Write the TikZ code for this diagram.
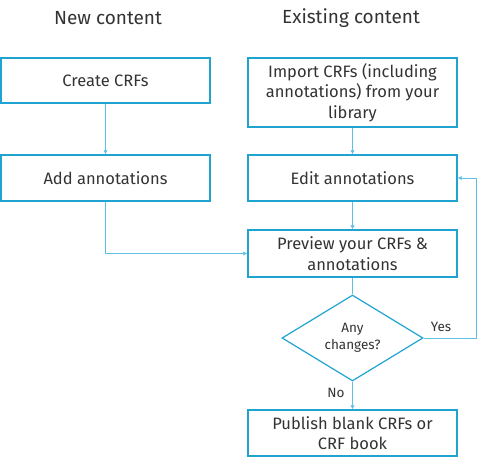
\documentclass[tikz,border=0pt]{standalone}
\usepackage{fontspec}
\setmainfont{Fira Sans}
\usetikzlibrary{shapes.geometric,arrows.meta}
\definecolor{flowblue}{HTML}{1FA3D1}
\definecolor{linkblue}{HTML}{5EC1E3}
\definecolor{flowtext}{HTML}{333333}

\begin{document}
\begin{tikzpicture}[x=1pt,y=-1pt,
    head/.style={text=flowtext,font=\fontsize{19}{22}\selectfont},
    stepbox/.style={draw=flowblue,line width=1.4pt,minimum width=209pt,inner sep=1pt,
      align=center,text=flowtext,font=\fontsize{16.5}{20.5}\selectfont},
    decision/.style={diamond,draw=flowblue,line width=1.2pt,minimum width=141pt,
      minimum height=86pt,inner sep=0pt,align=center,text=flowtext,
      font=\fontsize{13.5}{17}\selectfont},
    tag/.style={text=flowtext,font=\fontsize{13.5}{16}\selectfont},
    link/.style={linkblue,line width=0.9pt,-{Latex[length=4pt,width=4.5pt]}}]
  \useasboundingbox (0,0) rectangle (477,465);
  % column headings
  \node[head] (newhead) at (108,18) {New content};
  \node[head] (oldhead) at (351,18) {Existing content};
  % steps
  \node[stepbox,minimum height=45pt] (create) at (105.5,80.5) {Create CRFs};
  \node[stepbox,minimum height=46pt] (add) at (105.5,178) {Add annotations};
  \node[stepbox,minimum height=69pt] (import) at (352.5,92.5) {Import CRFs (including\\annotations) from your\\library};
  \node[stepbox,minimum height=46pt] (edit) at (352.5,178) {Edit annotations};
  \node[stepbox,minimum height=47pt] (preview) at (352.5,253.5) {Preview your CRFs \&\\annotations};
  \node[decision] (check) at (352.5,338) {Any\\changes?};
  \node[stepbox,minimum height=46pt] (publish) at (352.5,433) {Publish blank CRFs or\\CRF book};
  \coordinate (loop) at (476,338);
  % connectors
  \draw[link] (create) -- (add);
  \draw[link] (import) -- (edit);
  \draw[link] (edit) -- (preview);
  \draw[link] (add.south) |- (preview.west);
  \draw[link,-] (preview) -- (check);
  \draw[link] (check) -- (publish);
  \draw[link] (check.east) -- (loop) |- (edit.east);
  \node[tag] (no) at (336,393) {No};
  \node[tag] (yes) at (441,327) {Yes};
\end{tikzpicture}
\end{document}
